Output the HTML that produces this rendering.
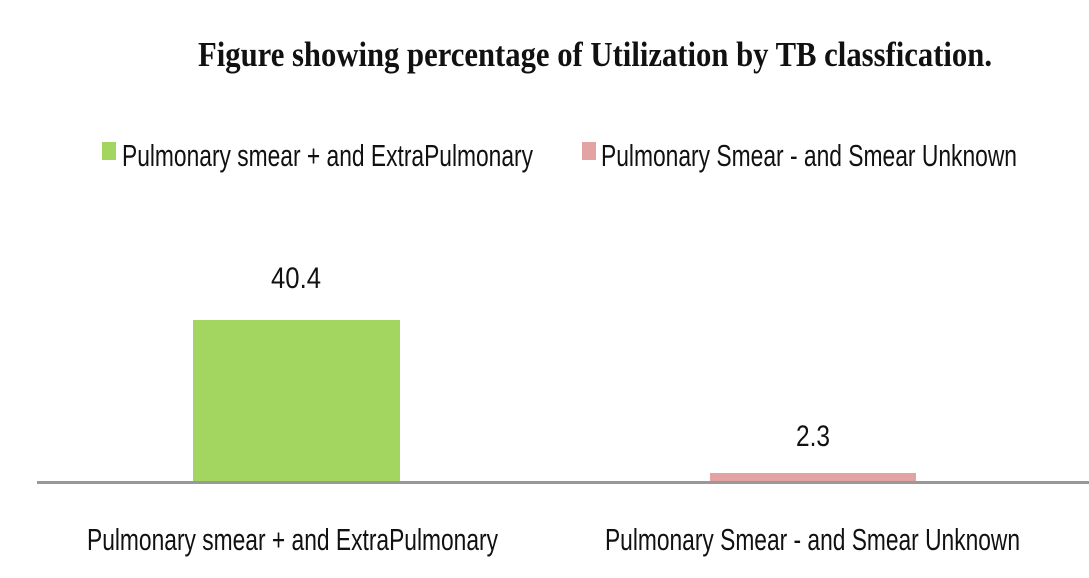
<!DOCTYPE html>
<html><head><style>html,body{margin:0;padding:0;background:#fff;}</style></head>
<body>
<svg width="1089" height="573" xmlns="http://www.w3.org/2000/svg">
<rect width="1089" height="573" fill="#fff"/>
<text x="198" y="66" font-family="Liberation Serif, serif" font-size="35" font-weight="bold" fill="#111" textLength="794" lengthAdjust="spacingAndGlyphs">Figure showing percentage of  Utilization by TB classfication.</text>
<rect x="102" y="142" width="14" height="18" fill="#a2d660"/>
<text x="122" y="166" font-family="Liberation Sans, sans-serif" font-size="31" fill="#111" textLength="411" lengthAdjust="spacingAndGlyphs">Pulmonary smear + and ExtraPulmonary</text>
<rect x="582" y="142" width="14" height="18" fill="#e4a3a3"/>
<text x="601" y="166" font-family="Liberation Sans, sans-serif" font-size="31" fill="#111" textLength="416" lengthAdjust="spacingAndGlyphs">Pulmonary Smear - and Smear Unknown</text>
<rect x="193" y="320" width="207" height="162" fill="#a2d660"/>
<rect x="710" y="473" width="206" height="9" fill="#e4a3a3"/>
<rect x="37" y="481" width="1052" height="3" fill="#999"/>
<text x="296" y="288" text-anchor="middle" font-family="Liberation Sans, sans-serif" font-size="30" fill="#111" textLength="50" lengthAdjust="spacingAndGlyphs">40.4</text>
<text x="813" y="446" text-anchor="middle" font-family="Liberation Sans, sans-serif" font-size="30" fill="#111" textLength="34" lengthAdjust="spacingAndGlyphs">2.3</text>
<text x="87" y="550" font-family="Liberation Sans, sans-serif" font-size="31" fill="#111" textLength="411" lengthAdjust="spacingAndGlyphs">Pulmonary smear + and ExtraPulmonary</text>
<text x="605" y="550" font-family="Liberation Sans, sans-serif" font-size="31" fill="#111" textLength="415" lengthAdjust="spacingAndGlyphs">Pulmonary Smear - and Smear Unknown</text>
</svg>
</body></html>
